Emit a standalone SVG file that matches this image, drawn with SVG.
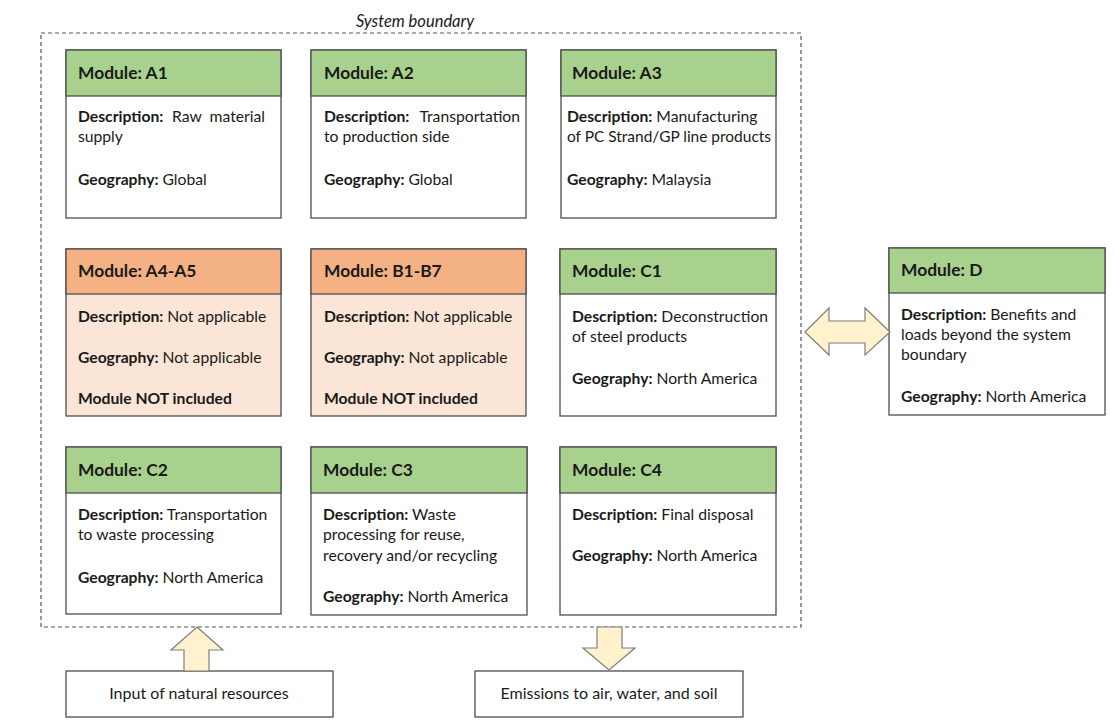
<svg xmlns="http://www.w3.org/2000/svg" width="1115" height="728" viewBox="0 0 1115 728">
<style>
text{font-family:Lato,"Open Sans","Liberation Sans",sans-serif;font-size:15.7px;fill:#1a1a1a}
.b{font-weight:bold}
.h{font-weight:bold;font-size:17.4px}
.box{fill:#fff;stroke:#4d4d4d;stroke-width:1.3}
.g{fill:#a9d18e;stroke:#4d4d4d;stroke-width:1.3}
.o{fill:#f4b183;stroke:#4d4d4d;stroke-width:1.3}
.ob{fill:#fbe5d6;stroke:#4d4d4d;stroke-width:1.3}
.arr{fill:#fff2cc;stroke:#7f7f7f;stroke-width:1.2;stroke-linejoin:miter}
.bnd{fill:none;stroke:#555;stroke-width:1.2;stroke-dasharray:4 3}
.it{font-style:italic;font-size:16.5px}
.c{font-size:16px}
</style>
<rect width="1115" height="728" fill="#fff"/>
<g id="boundary">
<rect class="bnd" x="41" y="33" width="760" height="594"/>
<text class="it" x="415" y="27" text-anchor="middle">System boundary</text>
</g>
<g id="A1">
<rect class="box" x="66" y="50" width="215" height="168"/>
<rect class="g" x="66" y="50" width="215" height="46"/>
<text class="h" x="78" y="79">Module: A1</text>
<text x="78" y="122"><tspan class="b">Description:</tspan></text>
<text x="172" y="122">Raw</text>
<text x="265" y="122" text-anchor="end">material</text>
<text x="78" y="142">supply</text>
<text x="78" y="185"><tspan class="b">Geography:</tspan> Global</text>
</g>
<g id="A2">
<rect class="box" x="311" y="50" width="215" height="168"/>
<rect class="g" x="311" y="50" width="215" height="46"/>
<text class="h" x="324" y="79">Module: A2</text>
<text x="324" y="122"><tspan class="b">Description:</tspan></text>
<text x="520" y="122" text-anchor="end">Transportation</text>
<text x="324" y="142">to production side</text>
<text x="324" y="185"><tspan class="b">Geography:</tspan> Global</text>
</g>
<g id="A3">
<rect class="box" x="561" y="50" width="215" height="168"/>
<rect class="g" x="561" y="50" width="215" height="46"/>
<text class="h" x="572" y="79">Module: A3</text>
<text x="567" y="122"><tspan class="b">Description:</tspan> Manufacturing</text>
<text x="567" y="142" textLength="204" lengthAdjust="spacingAndGlyphs">of PC Strand/GP line products</text>
<text x="567" y="185"><tspan class="b">Geography:</tspan> Malaysia</text>
</g>
<g id="A4-A5">
<rect class="ob" x="66" y="249" width="215" height="167"/>
<rect class="o" x="66" y="249" width="215" height="45"/>
<text class="h" x="78" y="277">Module: A4-A5</text>
<text x="78" y="322"><tspan class="b">Description:</tspan> Not applicable</text>
<text x="78" y="363"><tspan class="b">Geography:</tspan> Not applicable</text>
<text class="b" x="78" y="404">Module NOT included</text>
</g>
<g id="B1-B7">
<rect class="ob" x="311" y="249" width="215" height="167"/>
<rect class="o" x="311" y="249" width="215" height="45"/>
<text class="h" x="324" y="277">Module: B1-B7</text>
<text x="324" y="322"><tspan class="b">Description:</tspan> Not applicable</text>
<text x="324" y="363"><tspan class="b">Geography:</tspan> Not applicable</text>
<text class="b" x="324" y="404">Module NOT included</text>
</g>
<g id="C1">
<rect class="box" x="560" y="249" width="216" height="167"/>
<rect class="g" x="560" y="249" width="216" height="45"/>
<text class="h" x="572" y="277">Module: C1</text>
<text x="572" y="322"><tspan class="b">Description:</tspan> Deconstruction</text>
<text x="572" y="342">of steel products</text>
<text x="572" y="384"><tspan class="b">Geography:</tspan> North America</text>
</g>
<g id="D">
<rect class="box" x="889" y="248" width="216" height="167"/>
<rect class="g" x="889" y="248" width="216" height="45"/>
<text class="h" x="901" y="276">Module: D</text>
<text x="901" y="320"><tspan class="b">Description:</tspan> Benefits and</text>
<text x="901" y="340">loads beyond the system</text>
<text x="901" y="360">boundary</text>
<text x="901" y="402"><tspan class="b">Geography:</tspan> North America</text>
</g>
<g id="C2">
<rect class="box" x="66" y="447" width="215" height="167"/>
<rect class="g" x="66" y="447" width="215" height="46"/>
<text class="h" x="78" y="476">Module: C2</text>
<text x="78" y="520"><tspan class="b">Description:</tspan> Transportation</text>
<text x="78" y="540">to waste processing</text>
<text x="78" y="583"><tspan class="b">Geography:</tspan> North America</text>
</g>
<g id="C3">
<rect class="box" x="311" y="447" width="216" height="168"/>
<rect class="g" x="311" y="447" width="216" height="46"/>
<text class="h" x="323" y="476">Module: C3</text>
<text x="323" y="520"><tspan class="b">Description:</tspan> Waste</text>
<text x="323" y="540">processing for reuse,</text>
<text x="323" y="561">recovery and/or recycling</text>
<text x="323" y="602"><tspan class="b">Geography:</tspan> North America</text>
</g>
<g id="C4">
<rect class="box" x="560" y="447" width="216" height="168"/>
<rect class="g" x="560" y="447" width="216" height="46"/>
<text class="h" x="572" y="476">Module: C4</text>
<text x="572" y="520"><tspan class="b">Description:</tspan> Final disposal</text>
<text x="572" y="561"><tspan class="b">Geography:</tspan> North America</text>
</g>
<g id="input">
<rect class="box" x="66" y="671" width="267" height="46"/>
<text class="c" x="199" y="699" text-anchor="middle">Input of natural resources</text>
</g>
<g id="emissions">
<rect class="box" x="475" y="671" width="268" height="46"/>
<text class="c" x="609" y="699" text-anchor="middle">Emissions to air, water, and soil</text>
</g>
<g id="connectors">
<polygon class="arr" points="805,332 829,308 829,321 865,321 865,308 890,332 865,355 865,343 829,343 829,355"/>
<polygon class="arr" points="197,627 223,650 209,650 209,671 184,671 184,650 171,650"/>
<polygon class="arr" points="597,627 622,627 622,648 635,648 609,670 583,648 597,648"/>
</g>
</svg>
